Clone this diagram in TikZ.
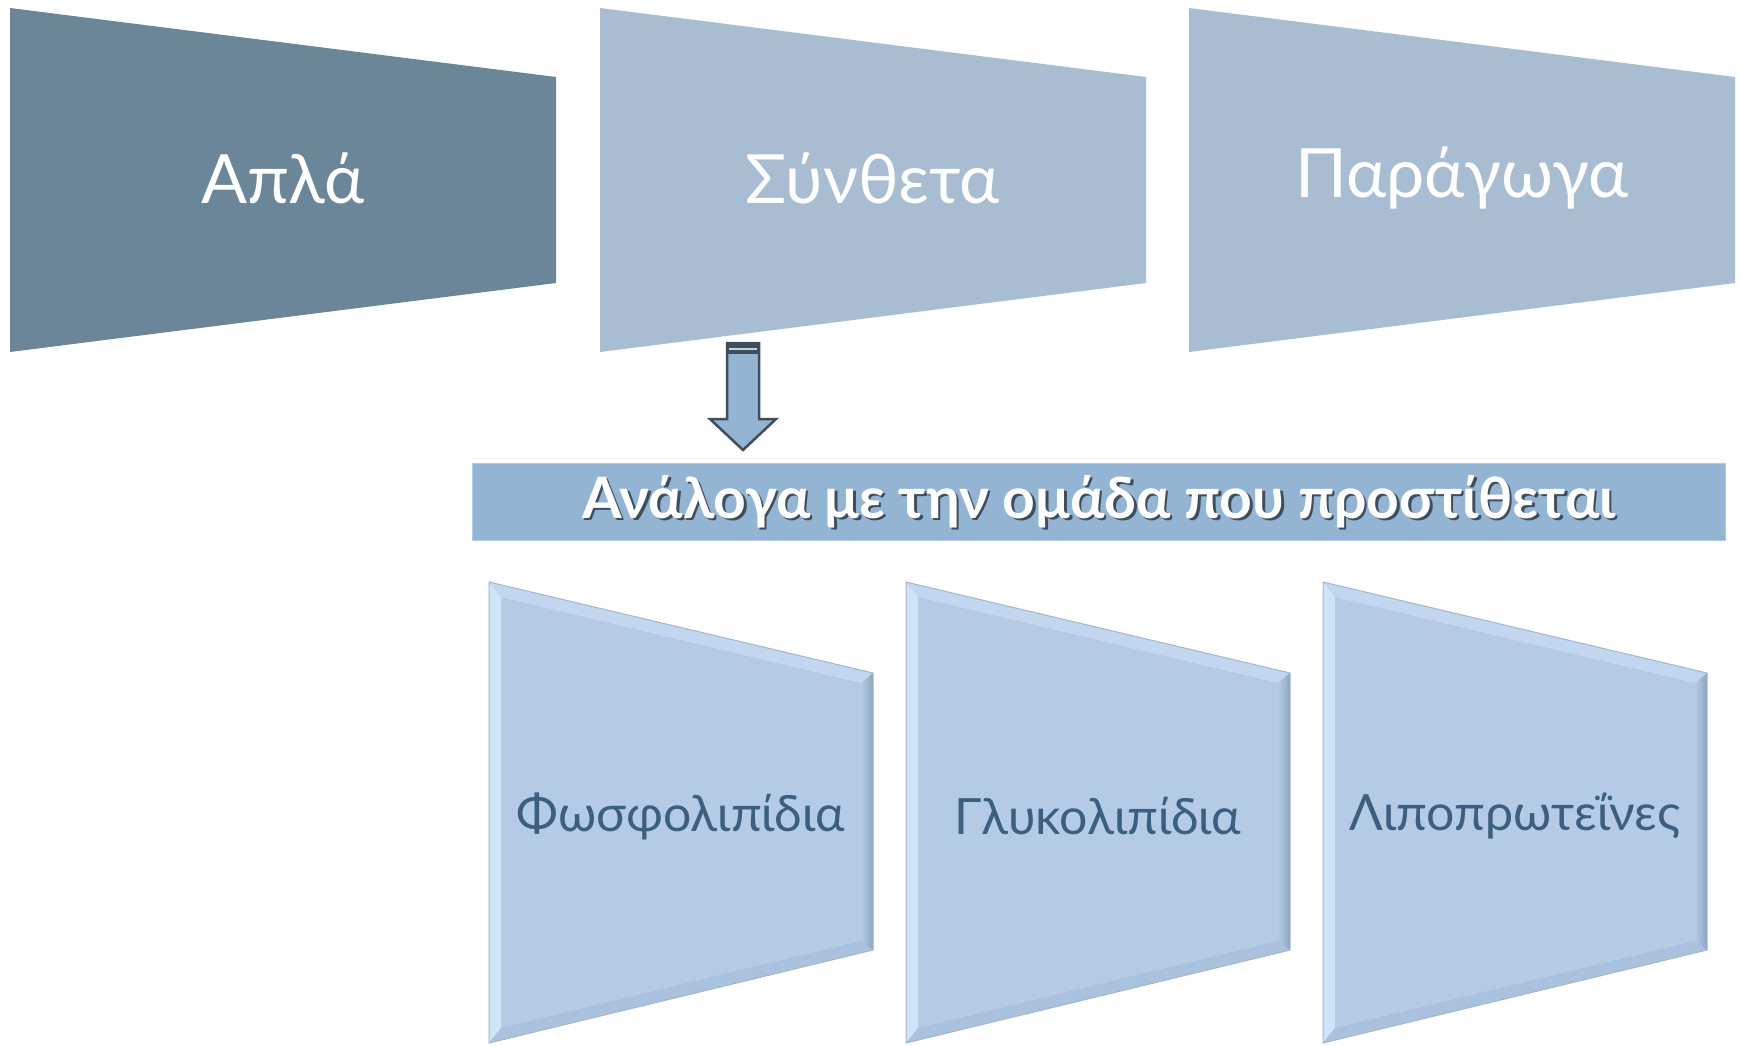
\documentclass[tikz,border=0pt]{standalone}
\usepackage{fontspec}
\setmainfont{Lato}
\usetikzlibrary{calc}

\definecolor{panelDark}{HTML}{6B8599}
\definecolor{panelLight}{HTML}{A9BDD2}
\definecolor{barBlue}{HTML}{93B4D3}
\definecolor{lowFill}{HTML}{B4CBE6}
\definecolor{lowText}{HTML}{3C5F80}
\definecolor{bevelLight}{HTML}{D0E4F9}
\definecolor{bevelTop}{HTML}{C2D7EF}
\definecolor{bevelDark}{HTML}{8DA4BE}
\definecolor{bevelBottom}{HTML}{AAC2DD}
\definecolor{arrowEdge}{HTML}{3E4E5E}

\tikzset{
  paneltext/.style={text=white, font=\fontsize{68}{76}\selectfont},
  lowtext/.style={text=lowText, font=\fontsize{50}{56}\selectfont},
  bartext/.style={font=\fontsize{57}{63}\selectfont\bfseries},
}

\begin{document}
\begin{tikzpicture}[x=1pt,y=-1pt]
		\useasboundingbox (0,0) rectangle (1741,1045);
		
		% top panels
		\fill[panelDark] (10,8) -- (556,77) -- (556,283) -- (10,352) -- cycle;
		\fill[panelLight] (600,8) -- (1146,77) -- (1146,283) -- (600,352) -- cycle;
		\fill[panelLight] (1189,8) -- (1735,77) -- (1735,283) -- (1189,352) -- cycle;
		\node[paneltext] (apla) at (283,178) {Απλά};
		\node[paneltext] (synth) at (873,178) {Σύνθετα};
		\node[paneltext] (parag) at (1462,178) {Παράγωγα};
		
		% block arrow
		\coordinate (arrowtop) at (743,343);
		\coordinate (arrowtip) at (743,450);
		\draw[arrowEdge,fill=barBlue,line width=2.5pt,line join=miter]
			($(arrowtop)+(-16,0)$) -- ($(arrowtop)+(16,0)$) -- ($(arrowtip)+(16,-31)$) --
			($(arrowtip)+(33,-31)$) -- (arrowtip) -- ($(arrowtip)+(-33,-31)$) --
			($(arrowtip)+(-16,-31)$) -- cycle;
		\fill[arrowEdge] ($(arrowtop)+(-16,0)$) rectangle ($(arrowtop)+(16,11)$);
		\draw[barBlue!60!white,line width=1.5pt] ($(arrowtop)+(-14,6)$) -- ($(arrowtop)+(14,6)$);
		
		% group bar
		\node[fill=barBlue,draw=barBlue!70!white,minimum width=1253pt,minimum height=77pt,inner sep=0pt] (group) at (1098.5,501.5) {};
		\node[bartext,text=arrowEdge] at ($(group)+(2.5,2.5)$) {Ανάλογα με την ομάδα που προστίθεται};
		\node[bartext,text=white] (grouplabel) at (group) {Ανάλογα με την ομάδα που προστίθεται};
		
		% lower panels with bevel
		\foreach \x in {489,906,1323} {
			\begin{scope}[shift={(\x,0)}]
				\fill[lowFill] (0,582) -- (384,673) -- (384,950) -- (0,1043) -- cycle;
				\fill[bevelLight] (0,582) -- (12,597) -- (12,1028) -- (0,1043) -- cycle;
				\fill[bevelTop] (0,582) -- (384,673) -- (372,683) -- (12,597) -- cycle;
				\shade[left color=lowFill,right color=bevelDark] (384,673) -- (384,950) -- (372,941) -- (372,683) -- cycle;
				\fill[bevelBottom] (0,1043) -- (12,1028) -- (372,941) -- (384,950) -- cycle;
				\draw[bevelDark!80!white,line width=1pt] (0,582) -- (384,673) -- (384,950) -- (0,1043) -- cycle;
			\end{scope}
		}
		\node[lowtext] (phos) at (681,816) {Φωσφολιπίδια};
		\node[lowtext] (gluc) at (1098,816) {Γλυκολιπίδια};
		\node[lowtext] (lipo) at (1515,816) {Λιποπρωτεΐνες};
		
	\end{tikzpicture}
\end{document}
